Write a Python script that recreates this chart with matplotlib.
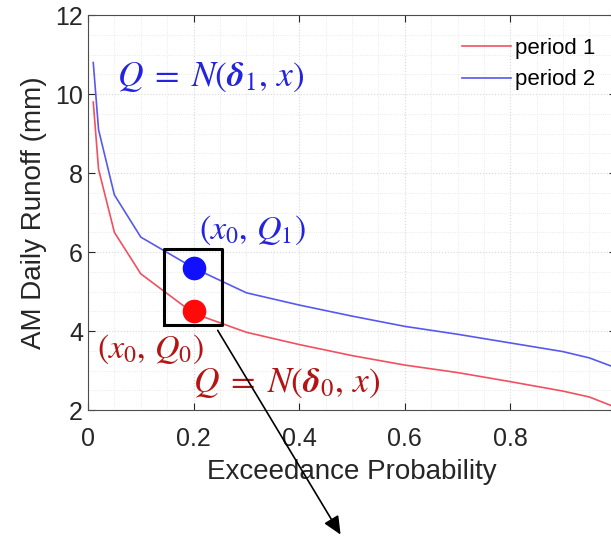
import matplotlib
matplotlib.use("Agg")
from matplotlib import pyplot as plt
from matplotlib.ticker import MultipleLocator

# exceedance probability and AM daily runoff (mm)
prob = [0.01, 0.02, 0.05, 0.1, 0.2, 0.3, 0.4, 0.5, 0.6, 0.7, 0.8, 0.9, 0.95, 0.99]
period1 = [9.8, 8.1, 6.5, 5.45, 4.45, 3.97, 3.66, 3.38, 3.14, 2.95, 2.72, 2.48, 2.33, 2.12]
period2 = [10.8, 9.1, 7.45, 6.38, 5.6, 4.97, 4.66, 4.38, 4.12, 3.92, 3.70, 3.48, 3.32, 3.12]

x0 = 0.2
Q0 = 4.5
Q1 = 5.6
box_x = [0.144, 0.254]
box_y = [4.15, 6.08]

xticks = [0, 0.2, 0.4, 0.6, 0.8, 1]
xticklabels = ["0", "0.2", "0.4", "0.6", "0.8", ""]  # the "1" falls outside the picture
yticks = [2, 4, 6, 8, 10, 12]

plt.rcParams["font.family"] = ["Liberation Sans", "DejaVu Sans"]
plt.rcParams["mathtext.fontset"] = "stix"

fig = plt.figure(figsize=(6.11, 5.41), dpi=100)
ax = fig.add_axes([0.144, 0.242, 0.864, 0.730])

red_line = "#f25060"
blue_line = "#5858f0"
ax.plot(prob, period1, color=red_line, lw=1.2, label="period 1")
ax.plot(prob, period2, color=blue_line, lw=1.2, label="period 2")

ax.plot([x0], [Q1], "o", color="#1010ff", ms=16, zorder=5)
ax.plot([x0], [Q0], "o", color="#ff0a0a", ms=16, zorder=5)
ax.plot([box_x[0], box_x[1], box_x[1], box_x[0], box_x[0]],
        [box_y[0], box_y[0], box_y[1], box_y[1], box_y[0]], color="black", lw=2.2, zorder=6)

# formula labels
blue_txt = "#2323e0"
red_txt = "#b41414"
ax.text(0.055, 10.43, r"$Q\;=\;N(\boldsymbol{\delta}_1,\,x)$", color=blue_txt, fontsize=25.5, va="center")
ax.text(0.21, 6.56, r"$(x_0,\,Q_1)$", color=blue_txt, fontsize=24.5, va="center")
ax.text(0.017, 3.54, r"$(x_0,\,Q_0)$", color=red_txt, fontsize=24.5, va="center")
ax.text(0.198, 2.68, r"$Q\;=\;N(\boldsymbol{\delta}_0,\,x)$", color=red_txt, fontsize=25.5, va="center")

# arrow leaving the box towards the bottom of the figure
ax.annotate("", xy=(342, 4), xycoords="figure pixels", xytext=(0.243, 4.08), textcoords="data",
            arrowprops=dict(arrowstyle="-|>,head_length=1.1,head_width=0.5", color="black", lw=1.2),
            annotation_clip=False)

ax.set_xlim(0, 1)
ax.set_ylim(2, 12)
ax.set_xticks(xticks)
ax.set_xticklabels(xticklabels)
ax.set_yticks(yticks)
ax.xaxis.set_minor_locator(MultipleLocator(0.05))
ax.yaxis.set_minor_locator(MultipleLocator(0.5))
ax.grid(which="major", color="#d8d8d8", ls=":", lw=0.8)
ax.grid(which="minor", color="#e4e4e4", ls=":", lw=0.6)
ax.set_axisbelow(True)

ax.tick_params(which="major", direction="in", length=5, top=True, right=True, labelsize=18,
               colors="#262626", width=0.8)
ax.tick_params(axis="x", which="major", pad=12)
ax.tick_params(which="minor", length=0)
for s in ax.spines.values():
    s.set_color("#4d4d4d")

ax.set_xlabel("Exceedance Probability", fontsize=20, color="#262626", labelpad=6)
ax.set_ylabel("AM Daily Runoff (mm)", fontsize=20, color="#262626", labelpad=6)

ax.legend(loc="upper left", bbox_to_anchor=(0.708, 0.942), frameon=False, fontsize=16,
          handlelength=2.2, handletextpad=0.2, labelspacing=0.47, borderpad=0, borderaxespad=0)

fig.savefig("out.png", dpi=100)
